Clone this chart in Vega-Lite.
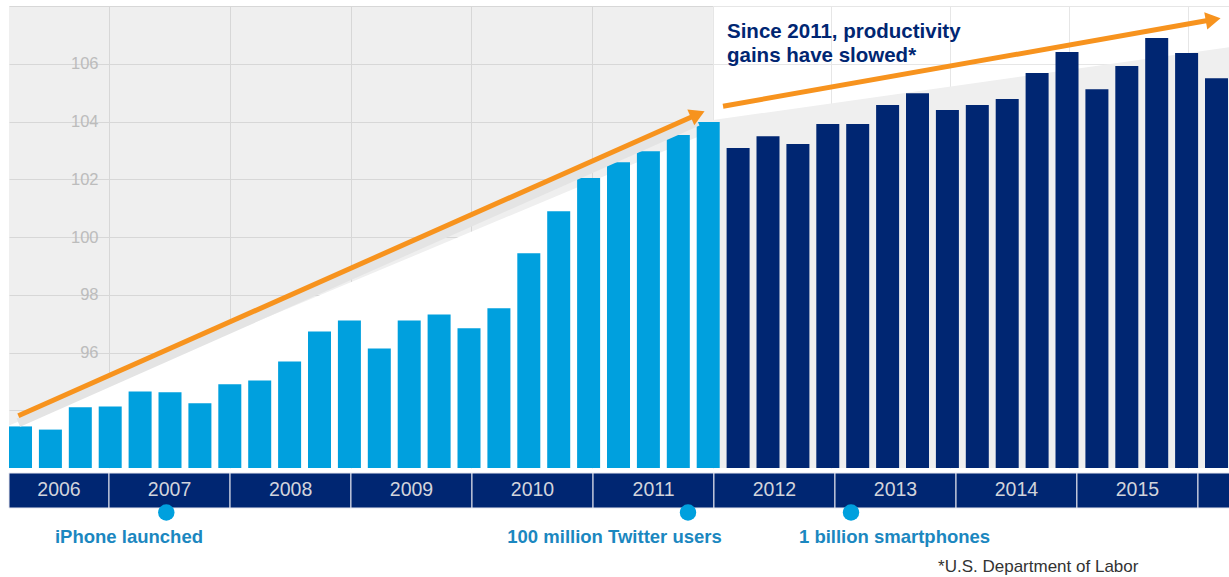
{
  "$schema": "https://vega.github.io/schema/vega-lite/v6.json",
  "padding": {"left": 8, "top": 6, "right": 0, "bottom": 0},
  "autosize": {"type": "pad"},
  "bounds": "flush",
  "spacing": 5,
  "background": "#ffffff",
  "config": {
    "view": {"stroke": null},
    "font": "Liberation Sans"
  },
  "resolve": {"scale": {"x": "independent", "y": "independent"}},
  "vconcat": [
    {
      "width": 1221,
      "height": 462,
      "encoding": {
        "x": {
          "field": "t", "type": "quantitative",
          "scale": {"domain": [2006.0288, 2016.2378], "nice": false, "zero": false, "padding": 0},
          "axis": {
            "values": [2006.865, 2007.877, 2008.888, 2009.892, 2010.903, 2011.915, 2012.902, 2013.897, 2014.892, 2015.887],
            "grid": true, "gridColor": "#e6e6e6", "gridWidth": 1,
            "labels": false, "ticks": false, "domain": false, "title": null,
            "minExtent": 0, "maxExtent": 0
          }
        },
        "y": {
          "field": "v", "type": "quantitative",
          "scale": {"domain": [92, 108], "nice": false, "zero": false},
          "axis": {
            "values": [94, 96, 98, 100, 102, 104, 106, 108],
            "grid": true, "gridColor": "#e6e6e6", "gridWidth": 1,
            "ticks": false, "tickSize": 0, "domain": false, "title": null,
            "labelExpr": "datum.value >= 96 && datum.value <= 106 ? datum.label : ''",
            "labelPadding": -89, "labelColor": "#c9c9c9", "labelFontSize": 16.5,
            "labelFont": "Liberation Sans",
            "minExtent": 0, "maxExtent": 0
          }
        }
      },
      "layer": [
        {
          "data": {"values": [{"t": 2006.0288, "v": 108}, {"t": 2011.915, "v": 108}]},
          "mark": {"type": "area", "color": "#000000", "opacity": 0.063},
          "encoding": {"y2": {"datum": 92}}
        },
        {
          "data": {"values": [{"t": 2006.0288, "v": 93.47}, {"t": 2011.915, "v": 103.69}]},
          "mark": {"type": "area", "color": "#ffffff", "opacity": 1},
          "encoding": {"y2": {"datum": 92}}
        },
        {
          "data": {"values": [{"t": 2011.915, "v": 104.05}, {"t": 2016.2378, "v": 106.58}]},
          "mark": {"type": "area", "color": "#efefef", "opacity": 1},
          "encoding": {"y2": {"datum": 92}}
        },
        {
          "data": {"values": [
            {"q": "2006 Q1", "t": 2006.125, "v": 93.44, "era": "before"},
            {"q": "2006 Q2", "t": 2006.375, "v": 93.33, "era": "before"},
            {"q": "2006 Q3", "t": 2006.625, "v": 94.10, "era": "before"},
            {"q": "2006 Q4", "t": 2006.875, "v": 94.13, "era": "before"},
            {"q": "2007 Q1", "t": 2007.125, "v": 94.65, "era": "before"},
            {"q": "2007 Q2", "t": 2007.375, "v": 94.62, "era": "before"},
            {"q": "2007 Q3", "t": 2007.625, "v": 94.24, "era": "before"},
            {"q": "2007 Q4", "t": 2007.875, "v": 94.90, "era": "before"},
            {"q": "2008 Q1", "t": 2008.125, "v": 95.03, "era": "before"},
            {"q": "2008 Q2", "t": 2008.375, "v": 95.69, "era": "before"},
            {"q": "2008 Q3", "t": 2008.625, "v": 96.73, "era": "before"},
            {"q": "2008 Q4", "t": 2008.875, "v": 97.11, "era": "before"},
            {"q": "2009 Q1", "t": 2009.125, "v": 96.14, "era": "before"},
            {"q": "2009 Q2", "t": 2009.375, "v": 97.11, "era": "before"},
            {"q": "2009 Q3", "t": 2009.625, "v": 97.32, "era": "before"},
            {"q": "2009 Q4", "t": 2009.875, "v": 96.84, "era": "before"},
            {"q": "2010 Q1", "t": 2010.125, "v": 97.53, "era": "before"},
            {"q": "2010 Q2", "t": 2010.375, "v": 99.44, "era": "before"},
            {"q": "2010 Q3", "t": 2010.625, "v": 100.89, "era": "before"},
            {"q": "2010 Q4", "t": 2010.875, "v": 102.04, "era": "before"},
            {"q": "2011 Q1", "t": 2011.125, "v": 102.59, "era": "before"},
            {"q": "2011 Q2", "t": 2011.375, "v": 102.97, "era": "before"},
            {"q": "2011 Q3", "t": 2011.625, "v": 103.53, "era": "before"},
            {"q": "2011 Q4", "t": 2011.875, "v": 103.98, "era": "before"},
            {"q": "2012 Q1", "t": 2012.125, "v": 103.08, "era": "after"},
            {"q": "2012 Q2", "t": 2012.375, "v": 103.49, "era": "after"},
            {"q": "2012 Q3", "t": 2012.625, "v": 103.22, "era": "after"},
            {"q": "2012 Q4", "t": 2012.875, "v": 103.91, "era": "after"},
            {"q": "2013 Q1", "t": 2013.125, "v": 103.91, "era": "after"},
            {"q": "2013 Q2", "t": 2013.375, "v": 104.57, "era": "after"},
            {"q": "2013 Q3", "t": 2013.625, "v": 104.98, "era": "after"},
            {"q": "2013 Q4", "t": 2013.875, "v": 104.40, "era": "after"},
            {"q": "2014 Q1", "t": 2014.125, "v": 104.57, "era": "after"},
            {"q": "2014 Q2", "t": 2014.375, "v": 104.78, "era": "after"},
            {"q": "2014 Q3", "t": 2014.625, "v": 105.68, "era": "after"},
            {"q": "2014 Q4", "t": 2014.875, "v": 106.41, "era": "after"},
            {"q": "2015 Q1", "t": 2015.125, "v": 105.12, "era": "after"},
            {"q": "2015 Q2", "t": 2015.375, "v": 105.92, "era": "after"},
            {"q": "2015 Q3", "t": 2015.625, "v": 106.89, "era": "after"},
            {"q": "2015 Q4", "t": 2015.875, "v": 106.37, "era": "after"},
            {"q": "2016 Q1", "t": 2016.125, "v": 105.50, "era": "after"}
          ]},
          "mark": {"type": "bar", "size": 23},
          "encoding": {
            "y2": {"datum": 92},
            "color": {
              "field": "era", "type": "nominal",
              "scale": {"domain": ["before", "after"], "range": ["#00a0de", "#002672"]},
              "legend": null
            }
          }
        },
        {
          "data": {"values": [
            {"arrow": "a", "t": 2006.107, "v": 93.81},
            {"arrow": "a", "t": 2011.787, "v": 104.25},
            {"arrow": "b", "t": 2011.999, "v": 104.53},
            {"arrow": "b", "t": 2016.097, "v": 107.53}
          ]},
          "layer": [
            {
              "transform": [{"filter": "datum.arrow == 'a'"}],
              "mark": {"type": "line", "color": "#e4e4e4", "strokeWidth": 9, "strokeCap": "butt", "strokeJoin": "round", "yOffset": 7},
              "encoding": {"detail": {"field": "arrow", "type": "nominal"}}
            },
            {
              "mark": {"type": "line", "color": "#f7931e", "strokeWidth": 5, "strokeCap": "butt", "strokeJoin": "round"},
              "encoding": {"detail": {"field": "arrow", "type": "nominal"}}
            }
          ]
        },
        {
          "data": {"values": [{"t": 2011.787, "v": 104.25}]},
          "mark": {"type": "point", "shape": "triangle-right", "angle": -23.9, "size": 300, "filled": true, "color": "#f7931e", "opacity": 1}
        },
        {
          "data": {"values": [{"t": 2016.097, "v": 107.53}]},
          "mark": {"type": "point", "shape": "triangle-right", "angle": -10, "size": 300, "filled": true, "color": "#f7931e", "opacity": 1}
        },
        {
          "data": {"values": [
            {"t": 2012.032, "v": 107.10, "label": "Since 2011, productivity"},
            {"t": 2012.032, "v": 106.27, "label": "gains have slowed*"}
          ]},
          "mark": {"type": "text", "align": "left", "baseline": "middle", "font": "Liberation Sans", "fontWeight": "bold", "fontSize": 20.5, "color": "#002672"},
          "encoding": {"text": {"field": "label", "type": "nominal"}}
        }
      ]
    },
    {
      "width": 1221,
      "height": 104,
      "layer": [
        {
          "data": {"values": [
            {"year": "2006", "x0": 2006.0288, "x1": 2006.865, "mid": 2006.447},
            {"year": "2007", "x0": 2006.865, "x1": 2007.877, "mid": 2007.371},
            {"year": "2008", "x0": 2007.877, "x1": 2008.888, "mid": 2008.383},
            {"year": "2009", "x0": 2008.888, "x1": 2009.900, "mid": 2009.394},
            {"year": "2010", "x0": 2009.900, "x1": 2010.912, "mid": 2010.406},
            {"year": "2011", "x0": 2010.912, "x1": 2011.923, "mid": 2011.418},
            {"year": "2012", "x0": 2011.923, "x1": 2012.935, "mid": 2012.429},
            {"year": "2013", "x0": 2012.935, "x1": 2013.947, "mid": 2013.441},
            {"year": "2014", "x0": 2013.947, "x1": 2014.958, "mid": 2014.452},
            {"year": "2015", "x0": 2014.958, "x1": 2015.970, "mid": 2015.464},
            {"year": "2016", "x0": 2015.970, "x1": 2016.2378, "mid": null}
          ]},
          "layer": [
            {
              "mark": {"type": "rect", "color": "#002672", "stroke": "#e8e8f0", "strokeWidth": 1},
              "encoding": {
                "x": {"field": "x0", "type": "quantitative", "scale": {"domain": [2006.0288, 2016.2378], "nice": false, "zero": false, "padding": 0}, "axis": null},
                "x2": {"field": "x1"},
                "y": {"datum": 0, "type": "quantitative", "scale": {"domain": [0, 104], "reverse": true, "nice": false, "zero": false}, "axis": null},
                "y2": {"datum": 35}
              }
            },
            {
              "transform": [{"filter": "datum.mid != null"}],
              "mark": {"type": "text", "align": "center", "baseline": "middle", "font": "Liberation Sans", "fontSize": 19.5, "color": "#d2d4dc"},
              "encoding": {
                "x": {"field": "mid", "type": "quantitative"},
                "y": {"datum": 17, "type": "quantitative"},
                "text": {"field": "year", "type": "nominal"}
              }
            }
          ]
        },
        {
          "data": {"values": [
            {"event": "iPhone launched", "tm": 2007.344, "tl": 2007.032},
            {"event": "100 million Twitter users", "tm": 2011.706, "tl": 2011.092},
            {"event": "1 billion smartphones", "tm": 2013.069, "tl": 2013.433}
          ]},
          "layer": [
            {
              "mark": {"type": "point", "shape": "circle", "filled": true, "size": 270, "color": "#00a0de", "opacity": 1},
              "encoding": {
                "x": {"field": "tm", "type": "quantitative"},
                "y": {"datum": 39.5, "type": "quantitative"}
              }
            },
            {
              "mark": {"type": "text", "align": "center", "baseline": "middle", "font": "Liberation Sans", "fontWeight": "bold", "fontSize": 18.5, "color": "#1b87c0"},
              "encoding": {
                "x": {"field": "tl", "type": "quantitative"},
                "y": {"datum": 64, "type": "quantitative"},
                "text": {"field": "event", "type": "nominal"}
              }
            }
          ]
        },
        {
          "data": {"values": [{"note": "*U.S. Department of Labor"}]},
          "mark": {"type": "text", "align": "left", "baseline": "middle", "font": "Liberation Sans", "fontSize": 17, "color": "#333333"},
          "encoding": {
            "x": {"datum": 2013.797, "type": "quantitative"},
            "y": {"datum": 94, "type": "quantitative"},
            "text": {"field": "note", "type": "nominal"}
          }
        }
      ]
    }
  ]
}
